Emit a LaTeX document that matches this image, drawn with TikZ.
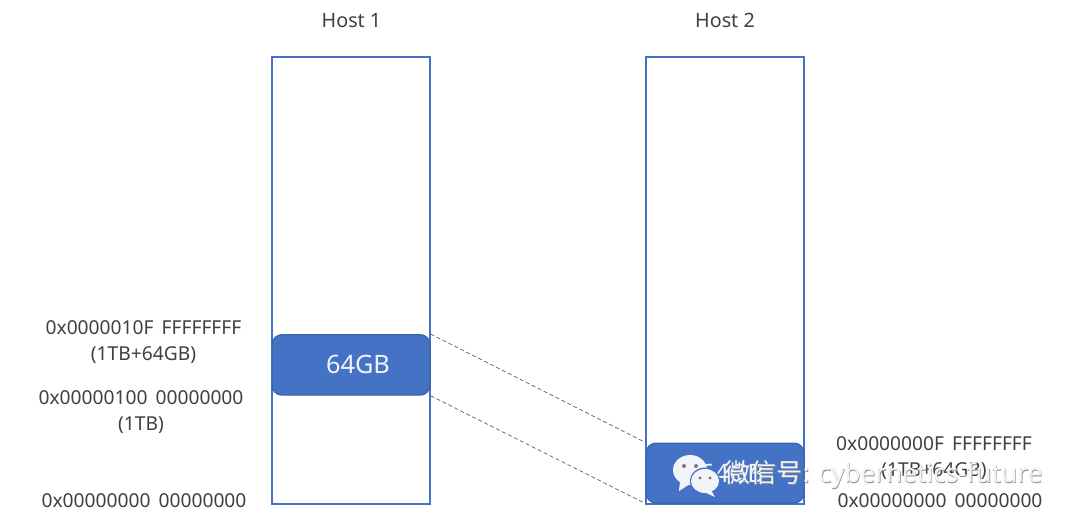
\documentclass[tikz,border=0pt]{standalone}
\usepackage{fontspec}
\setmainfont{Noto Sans}
\newfontfamily\cjk{Noto Sans CJK SC}
\definecolor{boxline}{HTML}{4472C4}
\definecolor{lbl}{HTML}{404040}
\definecolor{wm}{HTML}{F2F4FA}
\newcommand{\gp}{\hspace{0.42em}}
\tikzset{
  x=0.75pt,y=-0.75pt,
  hostbar/.style={draw=boxline,line width=1.5pt,fill=white,minimum width=118.5pt,minimum height=335.25pt,inner sep=0pt,anchor=north west},
  blockbox/.style={draw=boxline!85!black,line width=0.8pt,fill=boxline,rounded corners=7.5pt,minimum width=118.5pt,inner sep=0pt,anchor=north west},
  blocktxt/.style={text=white!92!boxline,font=\fontsize{19}{22}\selectfont,inner sep=0pt},
  lab/.style={text=lbl,font=\fontsize{14.4}{19.5}\selectfont,align=center,inner sep=0pt},
  hosttxt/.style={text=lbl,font=\fontsize{14.8}{16}\selectfont,inner sep=0pt},
  link/.style={draw=black!65,line width=0.5pt,densely dashed},
  wmtxt/.style={text=wm,font=\fontsize{19.6}{20}\selectfont,inner sep=0pt,anchor=west},
  wmshadow/.style={text=black!45,font=\fontsize{19.6}{20}\selectfont,inner sep=0pt,anchor=west},
}
\begin{document}
\begin{tikzpicture}
\useasboundingbox[fill=white] (0,0) rectangle (1080,525);
\node[hosttxt] (h1) at (351.5,21) {Host 1};
\node[hosttxt] (h2) at (725,20) {Host 2};
\node[hostbar] (bar1) at (271.3,56.3) {};
\node[hostbar] (bar2) at (645.3,56.3) {};
\node[blockbox,minimum height=45.5pt] (b1) at (271.5,334) {};
\node[blockbox,minimum height=45pt] (b2) at (645.5,442.5) {};
\node[blocktxt] (t1) at (358,364) {64GB};
\node[blocktxt] (t2) at (732,473) {64GB};
\draw[link] (b1.north east) -- (b2.north west);
\draw[link] (b1.south east) -- (b2.south west);
\node[lab] (l1) at (143.5,342) {0x0000010F\gp FFFFFFFF\\(1TB+64GB)};
\node[lab] (l2) at (141,412) {0x00000100\gp 00000000\\(1TB)};
\node[lab] (l3) at (144,501) {0x00000000\gp 00000000};
\node[lab] (r1) at (934,458) {0x0000000F\gp FFFFFFFF\\(1TB+64GB)};
\node[lab] (r2) at (940,501) {0x00000000\gp 00000000};
% watermark
\fill[wm] (690,470) ellipse [x radius=17,y radius=15];
\fill[wm] (680,481) -- (679,491) -- (690,484) -- cycle;
\fill[lbl!70] (684,466) circle (2) (696,466) circle (2);
\fill[boxline] (705,481) ellipse [x radius=15,y radius=13.5];
\fill[wm] (705,481) ellipse [x radius=14,y radius=12];
\fill[wm] (711,490) -- (715,497) -- (704,492) -- cycle;
\fill[lbl!70] (700,478) circle (1.6) (710,478) circle (1.6);
\node[wmshadow] (wms) at (724.6,475.6) {{\cjk 微信号}: cybernetics-future};
\node[wmtxt] (wmt) at (724,475) {{\cjk 微信号}: cybernetics-future};
\end{tikzpicture}
\end{document}
